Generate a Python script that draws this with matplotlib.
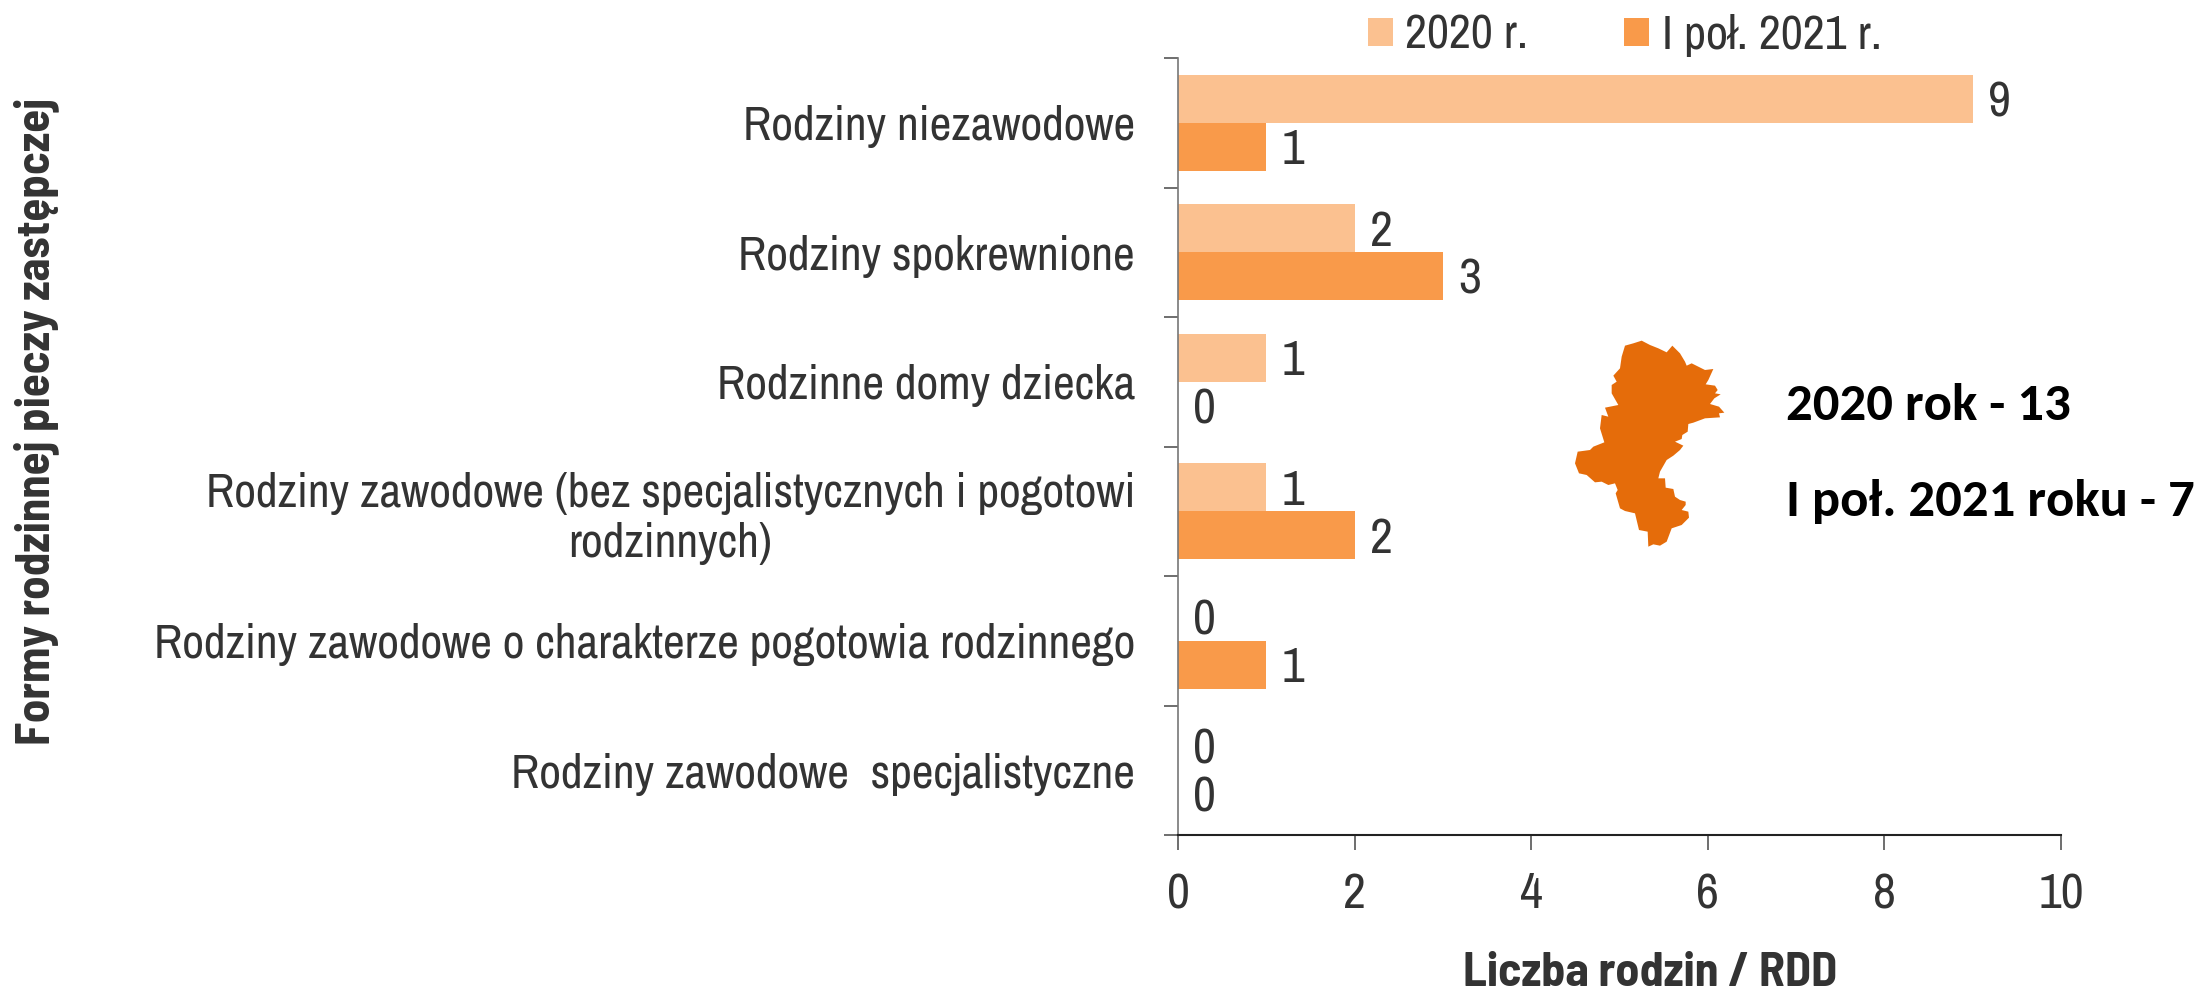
import numpy as np
import matplotlib
matplotlib.use('Agg')
import matplotlib.pyplot as plt
from matplotlib.patches import Polygon

W, H = 2200, 999

categories = [
    'Rodziny niezawodowe',
    'Rodziny spokrewnione',
    'Rodzinne domy dziecka',
    'Rodziny zawodowe (bez specjalistycznych i pogotowi\nrodzinnych)',
    'Rodziny zawodowe o charakterze pogotowia rodzinnego',
    'Rodziny zawodowe  specjalistyczne',
]
values_2020 = [9, 2, 1, 1, 0, 0]
values_2021 = [1, 3, 0, 2, 1, 0]
series_names = ['2020 r.', 'I poł. 2021 r.']
x_ticks = [0, 2, 4, 6, 8, 10]

map_x = [180, 205, 230, 255, 280, 305, 322, 345, 360, 365, 380, 400, 420, 445, 430, 422, 450, 458,
         450, 467, 448, 435, 462, 478, 462, 465, 420, 385, 370, 368, 352, 350, 330, 355, 345, 325,
         305, 285, 280, 300, 302, 325, 330, 345, 362, 362, 350, 370, 372, 350, 320, 305, 285, 265,
         250, 248, 222, 210, 180, 165, 152, 158, 150, 130, 110, 90, 65, 42, 30, 38, 75, 85,
         118, 105, 110, 130, 120, 160, 140, 140, 155, 145, 165, 170]
map_y = [32, 25, 17, 30, 40, 52, 32, 55, 80, 92, 85, 95, 105, 102, 135, 148, 152, 165,
         175, 178, 190, 207, 215, 233, 235, 247, 250, 263, 267, 290, 300, 312, 320, 332, 345, 362,
         375, 410, 430, 430, 458, 462, 485, 495, 500, 510, 525, 530, 548, 570, 580, 620, 632, 628,
         635, 590, 585, 535, 528, 520, 475, 465, 445, 450, 440, 442, 420, 415, 385, 350, 345, 335,
         322, 280, 240, 245, 218, 210, 175, 150, 140, 122, 100, 65]

TEXT = '#333333'
plt.rcParams['font.family'] = ['Archivo Narrow', 'Liberation Sans', 'DejaVu Sans']
BOLD_NARROW = ['Barlow Semi Condensed', 'Asap Condensed', 'Liberation Sans', 'DejaVu Sans']
BOLD_NOTE = ['Carlito', 'Open Sans', 'DejaVu Sans']

fig = plt.figure(figsize=(W / 100, H / 100), dpi=100)
ax = fig.add_axes([1178 / W, 1 - 835 / H, (2061 - 1178) / W, (835 - 58) / H])

y = np.arange(len(categories))
h = 0.37
b1 = ax.barh(y - h / 2, values_2020, h, color='#FBC190', label=series_names[0])
b2 = ax.barh(y + h / 2, values_2021, h, color='#F99A4A', label=series_names[1])

# etykiety wartosci, lekko w dol wzgledem srodka slupka
for bars in (b1, b2):
    for t in ax.bar_label(bars, padding=11, fontsize=36, color=TEXT):
        t.xyann = (t.xyann[0], t.xyann[1] - 3)

ax.set_xlim(0, 10)
ax.set_ylim(5.5, -0.5)
ax.set_xticks(x_ticks)
ax.set_yticks(y)
ax.set_yticklabels(categories, multialignment='center')
ax.set_yticks(np.arange(-0.5, 6, 1), minor=True)
ax.tick_params(axis='y', which='major', length=0, pad=31, labelsize=34.2, labelcolor=TEXT)
ax.tick_params(axis='y', which='minor', length=10, width=1.2, color='#555555')
ax.tick_params(axis='x', length=11, width=1.2, color='#555555', pad=16, labelsize=36, labelcolor=TEXT)
for s in ('top', 'right'):
    ax.spines[s].set_visible(False)
ax.spines['left'].set_color('#777777')
ax.spines['left'].set_linewidth(1.2)
ax.spines['bottom'].set_color('#222222')
ax.spines['bottom'].set_linewidth(1.5)

fig.text(1650 / W, 1 - 973 / H, 'Liczba rodzin / RDD', ha='center', va='center',
         family=BOLD_NARROW, fontsize=34.5, fontweight='bold', color=TEXT)
fig.text(36 / W, 1 - 421 / H, 'Formy rodzinnej pieczy zastępczej', ha='center', va='center',
         rotation=90, family=BOLD_NARROW, fontsize=33.7, fontweight='bold', color=TEXT)

ax.legend(loc='upper left', bbox_to_anchor=(1339 / W, 1 + 15 / H), bbox_transform=fig.transFigure,
          ncol=2, frameon=False, fontsize=34.7, handlelength=0.52, handleheight=0.52,
          handletextpad=0.25, columnspacing=2.0, labelcolor=TEXT, borderpad=0.1)

# mapa i podsumowanie
pts = [((1565 + a / 3) / W, 1 - (335 + b / 3) / H) for a, b in zip(map_x, map_y)]
fig.add_artist(Polygon(pts, closed=True, transform=fig.transFigure, facecolor='#E56C0A', edgecolor='none'))
fig.text(1786 / W, 1 - 406 / H, '2020 rok - 13', family=BOLD_NOTE, fontsize=38, fontweight='bold',
         color='black', va='center')
fig.text(1786 / W, 1 - 502 / H, 'I poł. 2021 roku - 7', family=BOLD_NOTE, fontsize=38, fontweight='bold',
         color='black', va='center')

fig.savefig('out.png', dpi=100, facecolor='white')
